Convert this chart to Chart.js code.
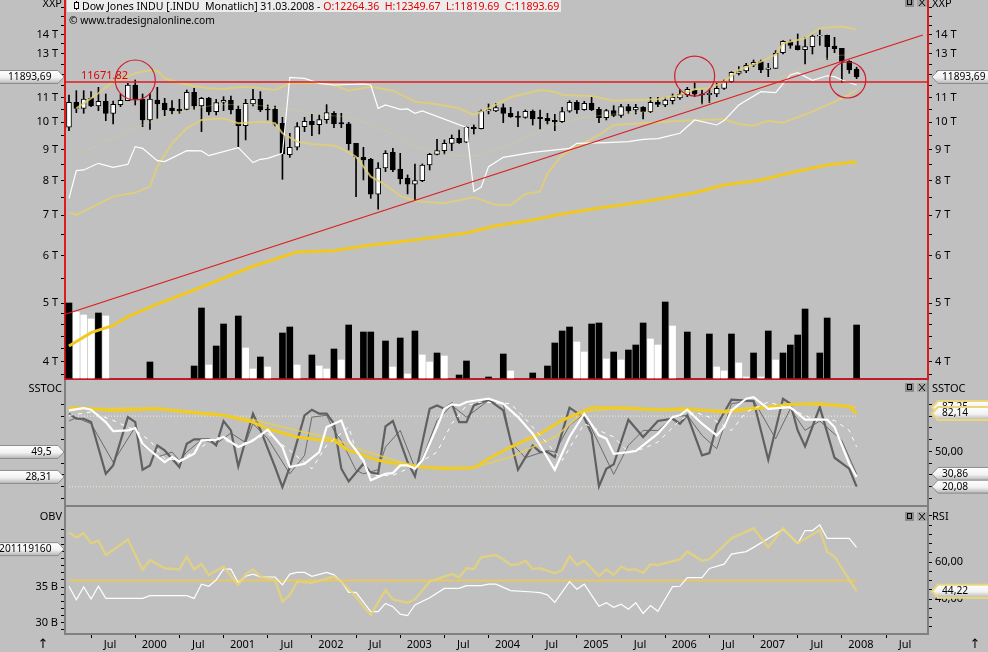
<!DOCTYPE html>
<html><head><meta charset="utf-8">
<style>
html,body{margin:0;padding:0;width:988px;height:652px;overflow:hidden;background:#c0c0c0}
canvas{position:absolute;left:0;display:block}
#hdr{position:absolute;left:67px;top:0;width:494px;height:12px;background:#ececec;font:10.55px/12px "Noto Sans",sans-serif;color:#000;white-space:pre;z-index:5}
#hdr b{font-weight:normal;color:#e00000}
#hdr i{position:absolute;left:7px;top:2px;width:3px;height:5px;background:#fff;border:1px solid #000}
#hdr i:after{content:"";position:absolute;left:1px;top:-2px;width:1px;height:9px;background:#000;z-index:-1}
#hdr span{position:absolute;left:15px;top:0}
#web{position:absolute;left:69px;top:14px;font:10.3px/12px "Noto Sans",sans-serif;color:#000;z-index:5}
</style>
<script src="https://cdn.jsdelivr.net/npm/chart.js@4"></script>
</head><body>
<div id="hdr"><i></i><span>Dow Jones INDU [.INDU  Monatlich] 31.03.2008 - <b>O:12264.36  H:12349.67  L:11819.69  C:11893.69</b></span></div>
<div id="web">© www.tradesignalonline.com</div>
<canvas id="c1" width="988" height="380" style="top:0"></canvas>
<canvas id="c2" width="988" height="127" style="top:380px"></canvas>
<canvas id="c3" width="988" height="145" style="top:507px"></canvas>
<script>
// Months: index 0 = Apr 1999, index 107 = Mar 2008
const months=[...Array(108).keys()];
const opens=[9810,10796,10550,10960,10644,10837,10350,10700,10864,11536,10920,10089,10892,10768,10563,10510,10510,11217,10644,10976,10416,10796,10878,10510,9872,10727,10920,10510,10510,9961,8833,9086,9834,10037,9910,10102,10350,9986,9936,9226,8744,8677,7589,8394,8913,8361,8069,7885,7996,8490,8845,8970,9226,9406,9262,9809,9759,10443,10443,10577,10350,10244,10192,10430,10192,10153,10076,10024,10430,10796,10497,10754,10510,10179,10456,10270,10617,10483,10590,10416,10796,10685,10864,10976,11118,11317,11146,11118,11146,11390,11685,12063,12172,12456,12616,12250,12296,13058,13605,13413,13209,13361,13919,13955,13395,13277,12632,12264.36];
const closes=[10796,10550,10934,10644,10837,10350,10713,10878,11536,10920,10089,10934,10727,10483,10456,10443,11217,10644,10962,10403,10781,10878,10483,9872,10754,10920,10483,10483,9923,8856,9086,9834,10037,9910,10102,10376,9936,9936,9214,8766,8655,7589,8394,8879,8330,8048,7885,7996,8490,8845,8970,9226,9406,9250,9809,9759,10443,10496,10577,10350,10218,10192,10430,10127,10140,10050,10024,10416,10796,10483,10754,10497,10179,10456,10270,10617,10456,10590,10416,10796,10713,10892,11004,11132,11346,11132,11102,11174,11390,11685,12110,12172,12440,12584,12219,12312,13024,13640,13431,13209,13361,13919,13955,13361,13260,12632,12219,11893.69];
const highs=[11102,11288,11288,11245,11434,11146,10851,11146,11610,11759,11146,11174,11434,10962,10864,10920,11317,11390,11004,11004,10920,11032,11060,10644,10920,11346,11245,10685,10644,10192,9586,9986,10192,10310,10284,10699,10416,10350,9999,9226,9086,8710,8567,8970,9050,8879,8172,8523,8523,8879,9369,9345,9525,9709,9834,9897,10483,10727,10754,10727,10590,10416,10483,10483,10483,10350,10310,10590,10864,10864,10837,11004,10590,10510,10658,10713,10713,10713,10617,11004,11004,11004,11146,11346,11434,11640,11317,11390,11610,11759,12141,12376,12535,12696,12696,12535,13158,13672,13707,14028,13848,13973,14244,13973,13848,13277,12664,12349.67];
const lows=[9685,10376,10350,10617,10456,10063,9936,10617,10864,10685,9834,9734,10153,10257,10324,10350,10483,10510,9648,10284,10284,10456,10324,9109,9345,10644,10416,10089,9859,8037,8744,8993,9648,9501,9561,9961,9796,9796,8993,7521,8017,7473,7167,8277,8277,7895,7599,7426,7965,8330,8822,8856,8970,9226,9250,9561,9747,10324,10416,9986,10192,9834,10153,9897,9747,9936,9685,9986,10390,10350,10470,10456,9986,10089,10218,10192,10350,10324,10127,10376,10617,10617,10727,10920,11032,11032,10727,10782,11032,11346,11640,11987,12094,12376,12094,11910,12296,12991,13277,13192,12504,12991,13430,12728,13058,11655,12063,11819.69];
const volume=[75,66,63,59,65,62,null,null,null,null,null,16,null,null,null,null,null,12,70,13,32,54,null,62,30,9,21,11,null,45,51,13,null,23,12,9,29,18,53,null,46,46,null,37,11,40,4,47,23,16,25,22,null,3,17,null,null,1,null,24,7,null,null,5,null,12,35,47,51,36,26,54,55,19,26,18,28,33,55,39,33,76,52,null,46,null,null,44,11,7,44,15,1,25,1,47,18,25,33,43,69,null,25,60,null,null,null,53];
const whiteVolumeMonths=[1,2,3,5,19,24,25,27,31,34,35,37,44,46,48,49,51,60,69,70,73,75,79,80,82,88,89,91,92,94,96];
// Overlays as [month index, value]
const sma=[[0,4243],[3,4465],[6,4590],[8,4747],[12,4980],[17,5259],[25,5760],[31,6082],[36,6112],[40,6224],[45,6327],[49,6418],[54,6542],[58,6728],[63,6877],[67,7036],[72,7200],[76,7312],[80,7444],[85,7634],[89,7862],[94,8015],[98,8242],[103,8489],[107,8597]];
const upperBand=[[1,10550],[4,11174],[6,11685],[9,12063],[11,12219],[12,12188],[13,11834],[15,11640],[17,11492],[19,11390],[21,11360],[23,11434],[25,11434],[28,11317],[30,11610],[32,11640],[34,11610],[36,11536],[38,11288],[41,11463],[44,11288],[47,10823],[50,10713],[53,10550],[55,10284],[57,10550],[60,11004],[64,11317],[66,11245],[67,11102],[71,11060],[74,10864],[80,10920],[83,11102],[85,11346],[87,11390],[89,11685],[91,12219],[94,12616],[96,12959],[97,13533],[100,13795],[102,14340],[105,14430],[107,14280]];
const lowerBand=[[0,7074],[1,7011],[4,7314],[6,7521],[9,7638],[11,7815],[12,8437],[14,9226],[16,9771],[18,10089],[21,10153],[23,9961],[26,10024],[28,9961],[29,9586],[31,9285],[33,9202],[36,9140],[37,9050],[39,8766],[41,8120],[43,7865],[45,7540],[47,7398],[51,7332],[55,7502],[58,7285],[60,7285],[62,7599],[64,7667],[65,8224],[67,8822],[69,9109],[72,9525],[74,9897],[80,10000],[85,10089],[89,10114],[91,9936],[93,9872],[95,10063],[97,9986],[101,10416],[105,10962],[107,11317]];
const midBand=[[1,8800],[9,9800],[15,10400],[20,10700],[25,10700],[30,10500],[34,10300],[38,10200],[43,9700],[47,9100],[52,8800],[56,8800],[60,9200],[66,9900],[70,10200],[75,10350],[80,10450],[85,10700],[90,11000],[95,11600],[100,12400],[104,12900],[107,13000]];
const whitePrice=[[0,7473],[1,8309],[2,8330],[4,8545],[6,8416],[8,8512],[9,9109],[10,9050],[12,8633],[13,8600],[16,8970],[18,8959],[19,8800],[23,9075],[25,8567],[26,8677],[27,8710],[29,8879],[30,11880],[32,11834],[34,11610],[36,11536],[40,11580],[41,11536],[42,10550],[43,10685],[45,10510],[46,10523],[47,10350],[48,10443],[54,9800],[55,7667],[56,7800],[57,8437],[59,8744],[63,8913],[68,9050],[69,9226],[73,9250],[76,9285],[78,9369],[80,9390],[83,9586],[85,10089],[88,9897],[89,10063],[91,10685],[94,11245],[96,11203],[98,11987],[99,12094],[101,11744],[103,11950],[104,11910],[105,11759],[107,11536]];
const trendLine=[[-0.5,4791],[116,13973]];
const levelValue=11671.82;
const circles=[[9,11759],[85,11939],[105.8,11759]];
const circleRadius=[20,20,18];
const priceMajor=[14000,13000,12000,11000,10000,9000,8000,7000,6000,5000,4000];
const priceMinor=[15500,15000,14500,13500,12500,11500,10500,9500,8500,7500,6500,5500,4800,4600,4400,4200,3800];
// SSTOC
const stochK=[[0,82],[1,77.7],[2,77.7],[3,74.9],[5,31],[6,38.1],[8,79.1],[9,74.9],[10,34.4],[11,38.1],[12,55.1],[13,50.8],[15,36.7],[16,56.5],[17,60.2],[19,60.2],[20,55.1],[21,75.8],[22,67.8],[23,37.3],[25,82],[26,68.4],[28,36.7],[29,19.7],[30,36.7],[32,80.6],[33,85.4],[34,82],[35,82],[36,73.5],[37,35.3],[38,24.5],[40,39.5],[41,32],[42,31],[43,71.2],[44,75.8],[46,40.9],[47,28.8],[49,86.2],[50,89],[51,86.2],[52,90.5],[53,74.9],[54,74.9],[55,89],[57,93.9],[59,84.8],[60,59.3],[61,34.4],[63,55.1],[64,49.4],[65,49.4],[66,45.2],[68,87.1],[70,78.6],[71,65],[72,20.3],[73,35.3],[74,39],[76,76.9],[78,62.2],[80,75.8],[82,77.7],[83,73.5],[84,80.6],[86,46.6],[87,48.6],[88,72.1],[90,93.9],[93,92.7],[95,42.9],[97,94.7],[98,90.5],[99,67.8],[100,54.2],[102,87.6],[104,44.6],[106,35.3],[107,20.08]];
const stochD=[[0,75.8],[1,78.6],[3,73.5],[6,40.9],[9,70.7],[10,55.1],[12,45.2],[14,49.4],[15,42.4],[16,49.4],[18,59.9],[20,56.5],[22,65.6],[24,57.4],[25,73.5],[27,60.8],[30,31],[32,46.6],[33,79.1],[35,80.6],[36,67.8],[37,59.3],[39,33.9],[40,31],[42,34.4],[43,53.7],[45,67.8],[47,36.1],[48,43.8],[50,76.3],[52,89],[54,79.1],[57,93.3],[59,90.5],[60,57.9],[62,44.6],[65,50.8],[66,49.4],[68,72.1],[70,82],[72,56.5],[74,30.5],[76,55.1],[78,67.8],[80,67.8],[82,79.1],[84,80.6],[86,63.6],[88,52.3],[90,90.5],[93,93.3],[96,60.8],[98,86.2],[100,67.8],[102,75.8],[105,59.3],[107,30.86]];
const slowK=[[0,84.8],[2,86.8],[3,85.4],[5,74.9],[6,67.3],[8,67.8],[9,69.8],[10,56.5],[11,50.8],[13,40.9],[14,45.2],[15,41.5],[17,48],[18,59.3],[20,59.9],[21,62.2],[23,53.7],[25,59.3],[27,68.4],[29,53.7],[30,36.7],[32,39.5],[34,49.4],[35,70.7],[36,73.5],[37,76.3],[38,59.3],[40,42.4],[41,25.4],[43,31],[44,31.6],[45,38.1],[46,38.1],[47,35.3],[48,42.4],[50,70.7],[51,86.2],[52,89.9],[53,89],[54,91.9],[57,94.7],[59,90.5],[61,79.1],[63,65],[64,55.1],[66,34.4],[68,62.2],[70,82],[72,63.6],[73,60.8],[74,48],[76,49.4],[77,50.3],[80,65],[82,79.1],[83,80.6],[84,85.4],[86,73.5],[88,63.6],[89,70.7],[90,84.8],[92,94.7],[93,96.1],[95,86.2],[98,87.6],[100,76.9],[103,76.9],[104,70.7],[106,39.5],[107,28.31]];
const slowD=[[0,80.6],[3,83.4],[6,76.3],[9,67.8],[11,59.3],[13,43.8],[15,42.4],[18,53.7],[20,62.2],[23,55.1],[27,65],[30,50.8],[33,35.3],[35,55.1],[38,70.7],[39,50.8],[41,29.6],[44,29.6],[47,38.1],[50,49.4],[52,73.5],[54,89],[56,91.9],[60,90.5],[62,77.7],[64,63.6],[67,42.4],[70,73.5],[74,62.2],[76,49.4],[78,52.3],[80,57.9],[83,76.3],[85,83.4],[87,79.1],[90,67.8],[92,83.4],[95,91.9],[98,86.2],[101,77.7],[104,76.3],[106,67.8],[107,53.7]];
const longK=[[0,87.1],[3,86.2],[6,84.8],[12,86.2],[16,83.4],[21,80.6],[25,74.9],[27,69.2],[31,62.2],[34,59.9],[36,59.3],[38,50.8],[42,42.4],[45,39],[48,36.7],[51,35.3],[55,36.1],[57,43.8],[60,53.7],[64,65],[67,76.3],[71,87.1],[75,87.1],[80,85.4],[84,86.2],[89,83.4],[93,86.2],[98,89.9],[102,90.5],[106,88.2],[107,82.14]];
const longD=[[0,86.2],[12,86.8],[20,82],[25,76.9],[31,67.8],[36,60.8],[40,50.8],[45,40.9],[48,36.7],[55,36.1],[60,45.2],[66,62.2],[70,83.4],[74,86.2],[80,84.8],[89,84.8],[98,90.5],[106,88.2],[107,87.25]];
const stochBands=[80,20];
const stochTicks=[10,20,30,40,50,60,70,80,90];
// OBV (billions) and RSI
const rsi=[[0,75.9],[1,73.3],[2,75.5],[3,70.1],[4,71.5],[5,63.8],[6,66.5],[8,72.3],[10,55.7],[11,61.1],[13,56.6],[15,56],[16,62.9],[17,56],[18,58.9],[19,53],[21,57.5],[23,47.6],[24,53.5],[25,56],[26,52.1],[28,50.3],[29,38.6],[30,42.2],[31,49.4],[33,48.8],[36,52.1],[37,49.4],[39,41.3],[40,35.9],[41,31.4],[43,44.9],[44,39.8],[46,38],[47,39.8],[49,49.4],[52,53.5],[53,51.7],[54,56.6],[55,56.2],[56,62.5],[58,63.8],[59,61.4],[60,58.4],[61,58.7],[62,60.7],[63,56.2],[64,56.6],[66,53.9],[67,55.7],[68,63.2],[69,58.4],[70,60.7],[72,52.4],[73,56],[74,53],[75,57.5],[76,55.7],[77,56],[78,54.2],[79,58.7],[80,58.4],[83,61.4],[84,65.6],[86,60.7],[87,61.4],[90,72.8],[93,78.2],[95,67.9],[97,78.2],[99,70.1],[102,77.3],[103,65.6],[104,62.9],[106,50.3],[107,44.22]];
const obv=[[0,35.1],[1,33.2],[2,35],[3,33.3],[4,35.1],[5,33.4],[10,33.4],[11,33.8],[16,33.8],[17,33.4],[18,35.4],[19,35.1],[20,36],[21,37.5],[22,37.5],[23,35.6],[24,36.5],[25,36.8],[26,36.4],[28,36.4],[29,35.3],[30,36.8],[31,37.05],[32,37.05],[33,36.5],[35,37.05],[36,36.7],[37,35.75],[38,34.25],[39,34.25],[41,31.55],[42,31.55],[43,32.7],[44,32.25],[45,31.2],[46,31],[47,32.5],[49,33.5],[51,34.8],[53,34.8],[54,35.2],[56,35.2],[57,35.4],[58,35.4],[60,34.5],[63,34.3],[64,34.2],[65,33.9],[66,32.85],[68,35.75],[69,34.7],[70,35.4],[72,32.3],[73,32.8],[74,32.15],[75,32.6],[76,31.9],[77,32.8],[78,31.3],[79,32.4],[80,31.6],[82,35.05],[83,35.1],[84,36.3],[86,36.3],[87,37.6],[89,38.2],[90,39.6],[92,39.95],[93,40.55],[95,41.8],[97,43.1],[99,41.1],[100,42.9],[101,42.9],[102,43.7],[103,41.8],[106,41.8],[107,40.55]];
const rsiLevel=50;
const obvMajor=[35,30];
const obvTicks=[29,30,31,32,33,34,35,36,37,38,39,40,41,42,43];
const rsiMajor=[60,40];
const rsiTicks=[25,30,35,40,45,50,55,60,65,70,75,80,85];
// Time axis
const timeTicks=[3,9,15,21,27,33,39,45,51,57,63,69,75,81,87,93,99,105,111];
const timeLabels=['Jul','2000','Jul','2001','Jul','2002','Jul','2003','Jul','2004','Jul','2005','Jul','2006','Jul','2007','Jul','2008','Jul'];

const FONT='"Noto Sans",sans-serif';
const RED='#dc1c1c', GREY='#808080', BAND='rgba(228,208,112,.8)';
const X_MIN=-0.54, X_MAX=116.7;
Chart.defaults.animation=false;
Chart.defaults.font.family=FONT;
Chart.defaults.font.size=11;
Chart.defaults.color='#000';

function noPad(s){s.paddingTop=0;s.paddingBottom=0;s.paddingLeft=0;s.paddingRight=0;}
function line(data,color,width,extra){return Object.assign({type:'line',data,borderColor:color,borderWidth:width,pointRadius:0,fill:false,tension:0,yAxisID:'y',xAxisID:'x',order:1},extra||{});}
function xAxis(color,height,withTicks){return {
  type:'linear',min:X_MIN,max:X_MAX,position:'bottom',
  afterFit(s){s.height=height;noPad(s);},
  afterBuildTicks(s){s.ticks=withTicks?timeTicks.map(v=>({value:v})):[];},
  ticks:{display:withTicks,autoSkip:false,maxRotation:0,labelOffset:19,padding:0,callback:v=>timeLabels[timeTicks.indexOf(v)]||''},
  grid:{drawOnChartArea:false,drawTicks:withTicks,tickLength:4,tickColor:'#000'},
  border:{color,width:2}
};}
function yAxis(pos,type,min,max,values,labelFn,color){return {
  type,position:pos,min,max,
  afterFit(s){s.width=pos==='left'?65:60;noPad(s);},
  afterBuildTicks(s){s.ticks=values.map(v=>({value:v}));},
  ticks:{autoSkip:false,padding:3,callback:v=>labelFn(v)},
  grid:{drawOnChartArea:false,tickLength:4,tickColor:'#000'},
  border:{color,width:2}
};}
function flag(ctx,side,y,text,gold){
  const h=6.5;
  ctx.save();
  ctx.beginPath();
  if(side==='left'){ctx.moveTo(-2,y-h);ctx.lineTo(58,y-h);ctx.lineTo(64,y);ctx.lineTo(58,y+h);ctx.lineTo(-2,y+h);}
  else{ctx.moveTo(990,y-h);ctx.lineTo(938,y-h);ctx.lineTo(932,y);ctx.lineTo(938,y+h);ctx.lineTo(990,y+h);}
  ctx.closePath();
  const g=ctx.createLinearGradient(0,y-h,0,y+h);
  g.addColorStop(0,'#ffffff');g.addColorStop(.55,'#f2f2f2');g.addColorStop(1,'#b4b4b4');
  ctx.fillStyle=g;ctx.fill();
  ctx.lineWidth=gold?2:1;ctx.strokeStyle=gold?'#ead77a':'#8c8c8c';ctx.stroke();
  ctx.fillStyle='#000';ctx.font='10.2px '+FONT;ctx.textBaseline='middle';
  if(side==='left'){ctx.textAlign='right';ctx.fillText(text,51.5,y);}
  else{ctx.textAlign='left';ctx.fillText(text,942,y);}
  ctx.restore();
}
function buttons(ctx,y){
  ctx.save();
  ctx.fillStyle='#8e8e8e';ctx.fillRect(905,y,9,9);
  ctx.fillStyle='#a8a8a8';ctx.fillRect(917,y,10,9);
  ctx.strokeStyle='#000';ctx.lineWidth=1;
  ctx.strokeRect(907.5,y+1.5,4,5);
  ctx.beginPath();ctx.moveTo(919,y+1);ctx.lineTo(925,y+8);ctx.moveTo(925,y+1);ctx.lineTo(919,y+8);ctx.stroke();
  ctx.restore();
}
function sideText(ctx,left,right,y){
  ctx.save();ctx.fillStyle='#000';ctx.font='11px '+FONT;ctx.textBaseline='middle';
  ctx.textAlign='right';ctx.fillText(left,62,y);
  ctx.textAlign='left';ctx.fillText(right,932,y);
  ctx.restore();
}
const base={responsive:false,maintainAspectRatio:false,devicePixelRatio:1,events:[],layout:{autoPadding:false},plugins:{legend:{display:false},tooltip:{enabled:false},title:{display:false}}};
const priceLabel=v=>priceMajor.includes(v)?(v/1000)+' T':'';
const priceTicks=priceMajor.concat(priceMinor);

new Chart(document.getElementById('c1'),{
  data:{labels:months,datasets:[
    {type:'bar',data:volume,yAxisID:'yVol',xAxisID:'x',grouped:false,barThickness:6,order:9,borderWidth:0,
     backgroundColor:months.map(m=>whiteVolumeMonths.includes(m)?'#fff':'#000')},
    {type:'bar',data:months.map(m=>[lows[m],highs[m]]),yAxisID:'y',xAxisID:'x',grouped:false,barThickness:1,order:8,borderWidth:0,backgroundColor:'#000'},
    {type:'bar',data:months.map(m=>[Math.min(opens[m],closes[m]),Math.max(opens[m],closes[m])]),yAxisID:'y',xAxisID:'x',grouped:false,barThickness:5,order:7,
     borderWidth:1,borderColor:'#000',borderSkipped:false,backgroundColor:months.map(m=>closes[m]>=opens[m]?'#fff':'#000')},
    line(midBand,'rgba(226,210,120,.35)',1,{order:6}),
    line(sma,'#f0c820',3,{order:5}),
    line(upperBand,BAND,2,{order:4}),
    line(lowerBand,BAND,2,{order:4}),
    line(whitePrice,'#ffffff',1.2,{order:3}),
    line(trendLine,RED,1.2,{order:2}),
    line([[X_MIN,levelValue],[X_MAX,levelValue]],RED,1.5,{order:2}),
    line(circles,RED,1,{order:1,showLine:false,pointStyle:'circle',pointRadius:circleRadius,pointBorderColor:'#d01c2c',pointBorderWidth:1.2,pointBackgroundColor:'rgba(0,0,0,0)'})
  ]},
  options:Object.assign({},base,{layout:{autoPadding:false,padding:{bottom:1}},scales:{
    x:xAxis('#c01a28',0,false),
    y:yAxis('left','logarithmic',3739,15977,priceTicks,priceLabel,RED),
    yR:yAxis('right','logarithmic',3739,15977,priceTicks,priceLabel,RED),
    yVol:{type:'linear',display:false,min:-1,max:378}
  }}),
  plugins:[{id:'deco1',afterDraw(c){
    const ctx=c.ctx,s=c.scales.y;
    ctx.save();ctx.fillStyle='#e00000';ctx.font='11px '+FONT;ctx.textAlign='left';ctx.textBaseline='alphabetic';
    ctx.fillText('11671.82',81,s.getPixelForValue(levelValue)-3);ctx.restore();
    sideText(ctx,'XXP','XXP',4);
    buttons(ctx,-2);
    flag(ctx,'left',s.getPixelForValue(11893.69),'11893,69');
    flag(ctx,'right',s.getPixelForValue(11893.69),'11893,69');
  }}]
});

new Chart(document.getElementById('c2'),{
  data:{labels:months,datasets:[
    line([[0,stochBands[0]],[107,stochBands[0]]],'#f0ecc4',1.2,{borderDash:[1,2],order:9}),
    line([[0,stochBands[1]],[107,stochBands[1]]],'#f0ecc4',1.2,{borderDash:[1,2],order:9}),
    line(stochD,'#6a6a6a',1,{order:7}),
    line(stochK,'#606060',2.2,{order:6}),
    line(longD,'rgba(236,208,70,.8)',1.6,{order:5}),
    line(longK,'#f0cc20',3,{order:4}),
    line(slowD,'#ffffff',1,{borderDash:[4,5],order:3}),
    line(slowK,'#ffffff',2.2,{order:2})
  ]},
  options:Object.assign({},base,{layout:{autoPadding:false,padding:{bottom:1}},scales:{
    x:xAxis(GREY,0,false),
    y:yAxis('left','linear',3.65,110.6,stochTicks,()=>'',GREY),
    yR:yAxis('right','linear',3.65,110.6,stochTicks,v=>v===50?'50,00':'',GREY)
  }}),
  plugins:[{id:'deco2',afterDraw(c){
    const ctx=c.ctx,s=c.scales.y;
    sideText(ctx,'SSTOC','SSTOC',9);
    buttons(ctx,3);
    flag(ctx,'left',s.getPixelForValue(49.5),'49,5');
    flag(ctx,'left',s.getPixelForValue(28.31),'28,31');
    flag(ctx,'right',s.getPixelForValue(87.25),'87,25',true);
    flag(ctx,'right',s.getPixelForValue(82.14),'82,14',true);
    flag(ctx,'right',s.getPixelForValue(30.86),'30,86');
    flag(ctx,'right',s.getPixelForValue(20.08),'20,08');
  }}]
});

new Chart(document.getElementById('c3'),{
  data:{labels:months,datasets:[
    line([[0,rsiLevel],[107,rsiLevel]],'#e8c860',2,{yAxisID:'yR',order:4}),
    line(obv,'#ffffff',1.2,{yAxisID:'y',order:3}),
    line(rsi,'rgba(228,210,120,.85)',2.4,{yAxisID:'yR',order:2})
  ]},
  options:Object.assign({},base,{scales:{
    x:xAxis(GREY,18,true),
    y:yAxis('left','linear',28.42,46.2,obvTicks,v=>obvMajor.includes(v)?v+' B':'',GREY),
    yR:yAxis('right','linear',21.1,89.73,rsiTicks,v=>rsiMajor.includes(v)?v+',00':'',GREY)
  }}),
  plugins:[{id:'deco3',afterDraw(c){
    const ctx=c.ctx,s=c.scales.y,r=c.scales.yR;
    sideText(ctx,'OBV','RSI',10);
    buttons(ctx,5);
    flag(ctx,'left',s.getPixelForValue(40.3),'201119160');
    flag(ctx,'right',r.getPixelForValue(44.22),'44,22',true);
    ctx.save();ctx.fillStyle='#000';ctx.font='13px "DejaVu Sans"';ctx.textAlign='center';ctx.textBaseline='middle';
    ctx.fillText('↑',43,138);ctx.fillText('↑',975,138);ctx.restore();
  }}]
});
</script>
</body></html>
